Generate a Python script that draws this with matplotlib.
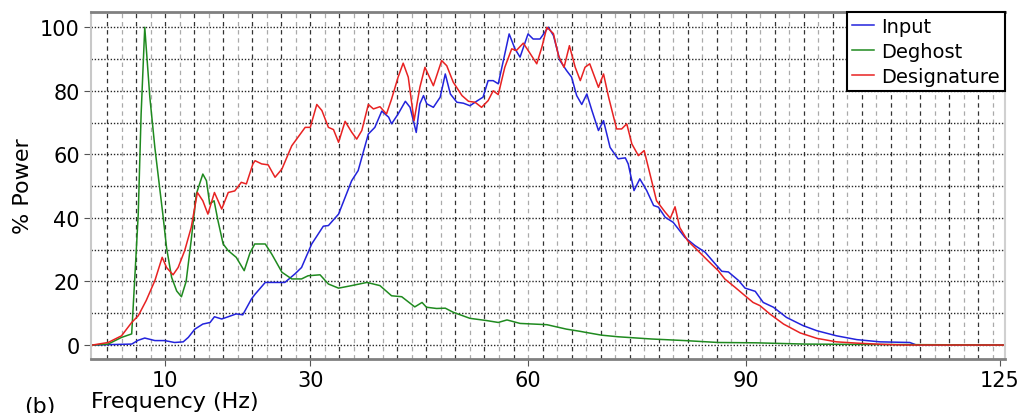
import numpy as np
import matplotlib
matplotlib.use("Agg")
import matplotlib.pyplot as plt

plt.rcParams['font.family'] = ['DejaVu Sans']

# ---- amplitude spectra, % of max power vs frequency (Hz) ----
freq_in = [0, 5.4, 6.3, 7.2, 8.6, 9.95, 11.3, 12.5, 13.2, 14.1, 15.2, 16.2, 16.8, 17.8, 18.7,
           19.8, 20.7, 21.9, 22.4, 23.8, 25.2, 26.5, 27.9, 28.8, 30.2, 31.8, 32.5, 33.9, 35.7,
           36.6, 38.0, 38.9, 39.85, 40.8, 41.2, 42.1, 43.1, 43.75, 44.6, 45.1, 45.6, 46.05, 46.96,
           47.9, 48.6, 49.3, 50.2, 51.1, 52.0, 52.9, 53.8, 54.5, 55.2, 55.9, 56.6, 57.4, 58.2,
           58.9, 60.0, 60.7, 61.65, 62.8, 63.5, 64.4, 65.3, 66.0, 66.7, 67.4, 68.1, 68.8, 69.7,
           70.4, 71.3, 72.4, 73.4, 73.8, 74.6, 75.4, 76.35, 77.3, 77.95, 78.9, 80.0, 81.6, 83.0,
           84.4, 85.8, 86.7, 87.6, 89.0, 89.9, 91.3, 92.4, 93.8, 95.6, 97.9, 99.8, 102.5, 105.3,
           108.5, 112.6, 113.5, 125.7]
power_in = [0, 0.3, 1.5, 2.2, 1.4, 1.4, 0.8, 1.0, 2.4, 5.0, 6.6, 7.1, 8.9, 8.2, 8.9,
            9.8, 9.5, 14.5, 16.0, 19.7, 19.7, 19.7, 22.4, 24.4, 31.8, 37.4, 37.6, 41.2, 51.7,
            54.9, 66.4, 68.5, 73.6, 71.7, 69.6, 72.7, 76.7, 74.8, 66.9, 75.9, 78.5, 75.9, 74.8,
            78.0, 85.3, 79.0, 76.4, 76.1, 75.3, 76.7, 78.0, 83.2, 83.2, 82.2, 89.5, 97.9, 93.2,
            90.6, 97.9, 96.3, 96.3, 100.0, 97.4, 89.5, 86.4, 84.3, 78.5, 75.7, 79.0, 73.8, 67.5,
            70.6, 62.2, 58.6, 58.9, 57.0, 48.6, 52.3, 48.6, 43.9, 43.4, 40.2, 38.6, 33.9, 31.3,
            29.2, 25.5, 23.2, 23.0, 20.3, 17.9, 16.9, 13.4, 11.9, 8.7, 6.1, 4.5, 2.9, 1.7,
            1.0, 0.8, 0.0, 0.0]

freq_dg = [0, 2.15, 4.0, 5.4, 5.8, 6.3, 6.7, 7.2, 7.9, 8.6, 9.3, 9.7, 10.2, 10.9, 11.6,
           12.25, 12.9, 13.6, 14.3, 15.2, 15.7, 16.15, 16.75, 17.3, 18.0, 18.7, 19.8, 20.9, 21.7,
           22.35, 23.8, 24.7, 26.1, 27.45, 28.8, 29.7, 31.35, 32.5, 33.9, 35.7, 37.8, 39.6, 41.2,
           42.6, 44.4, 45.4, 46.0, 47.4, 48.6, 49.7, 52.0, 54.3, 55.9, 57.1, 58.9, 62.6, 65.3,
           67.2, 67.9, 70.15, 72.4, 77.0, 81.6, 86.2, 91.3, 98.2, 105.0, 115.4, 125.7]
power_dg = [0, 0.3, 2.4, 3.5, 20.0, 41.0, 72.7, 100.0, 78.0, 62.0, 48.6, 41.0, 30.7, 21.3, 17.0,
            15.2, 20.0, 33.0, 47.5, 53.8, 51.7, 44.4, 45.4, 39.0, 31.8, 29.7, 27.6, 23.4, 29.0,
            31.8, 31.8, 28.6, 22.9, 20.8, 20.8, 21.8, 22.1, 19.2, 17.9, 18.7, 19.7, 18.7, 15.5,
            15.2, 12.0, 13.4, 11.9, 11.5, 11.6, 10.3, 8.4, 7.7, 7.1, 7.9, 6.8, 6.4, 5.0,
            4.3, 4.0, 3.1, 2.6, 1.9, 1.4, 0.8, 0.7, 0.3, 0.2, 0.1, 0.0]

freq_ds = [0, 2.15, 4.0, 5.4, 6.3, 7.4, 8.6, 9.6, 10.2, 11.1, 11.8, 12.7, 13.6, 14.45, 15.2,
           15.9, 16.8, 17.8, 18.7, 19.6, 20.5, 21.2, 22.1, 22.4, 23.3, 24.2, 25.15, 26.1, 27.45,
           29.3, 30.0, 30.9, 31.6, 32.5, 33.2, 33.9, 34.8, 35.7, 36.4, 37.1, 38.0, 38.7, 39.6,
           40.5, 41.2, 42.1, 42.8, 43.5, 44.3, 45.1, 45.8, 46.96, 48.1, 48.8, 49.7, 50.9, 51.8,
           52.7, 53.6, 54.5, 55.2, 55.9, 56.8, 57.75, 58.4, 59.35, 60.3, 61.2, 61.9, 62.6, 63.5,
           64.2, 64.96, 65.7, 66.5, 67.2, 67.85, 68.5, 69.7, 70.4, 71.1, 72.2, 72.9, 73.6, 74.3,
           75.2, 76.0, 76.8, 77.7, 78.9, 79.6, 80.25, 80.9, 82.0, 83.4, 84.8, 86.2, 87.1, 88.5,
           89.9, 91.0, 91.95, 93.3, 95.2, 97.5, 99.8, 102.5, 105.3, 108.9, 112.0, 125.7]
power_ds = [0, 0.8, 2.9, 7.1, 9.2, 14.0, 20.3, 27.6, 24.4, 22.1, 24.4, 29.7, 37.0, 48.0, 45.4,
            41.2, 48.0, 42.8, 48.0, 48.5, 51.2, 50.7, 57.0, 58.0, 57.0, 56.7, 52.8, 55.4, 62.7,
            68.5, 68.5, 75.7, 73.8, 68.5, 67.8, 63.8, 70.4, 67.0, 64.8, 67.5, 75.7, 74.3, 75.0,
            72.7, 77.4, 84.3, 88.7, 84.3, 70.6, 81.1, 87.4, 81.6, 89.5, 87.9, 82.7, 78.5, 76.7,
            76.4, 74.8, 76.9, 80.0, 78.8, 87.4, 93.2, 92.7, 95.0, 91.7, 88.5, 93.7, 100.0, 98.0,
            91.0, 87.4, 94.2, 87.4, 83.2, 87.4, 88.5, 81.1, 85.3, 78.0, 68.0, 68.0, 69.6, 63.3,
            59.6, 61.2, 53.8, 45.4, 41.8, 39.9, 43.5, 37.0, 32.8, 29.7, 26.5, 23.4, 20.8, 18.2,
            15.5, 13.4, 12.4, 9.8, 6.6, 3.8, 2.1, 1.0, 0.6, 0.2, 0.0, 0.0]

x_ticks = [10, 30, 60, 90, 125]
y_ticks = [0, 20, 40, 60, 80, 100]

fig = plt.figure(figsize=(10.24, 4.14), dpi=100)
ax = fig.add_axes([0.0889, 0.1304, 0.8925, 0.8382])

# grid: dashed verticals every 2 Hz, dotted horizontals every 10 %
for i, f in enumerate(np.arange(2, 126, 2)):
    if i % 2 == 0:
        ax.axvline(f, color='#333333', lw=0.9, ls=(0, (3.5, 3)), zorder=0)
    else:
        ax.axvline(f, color='#aaaaaa', lw=0.9, ls=(0, (3.5, 3)), zorder=0)
for v in range(0, 101, 10):
    ax.axhline(v, color='#262626', lw=1.0, ls=(0, (1, 1.3)), zorder=0)

ax.plot(freq_in, power_in, color='#2323dc', lw=1.1, label='Input')
ax.plot(freq_dg, power_dg, color='#1f8a1f', lw=1.1, label='Deghost')
ax.plot(freq_ds, power_ds, color='#e82222', lw=1.1, label='Designature')

ax.set_xlim(-0.2, 125.7)
ax.set_ylim(-4.4, 104.8)
ax.set_xticks(x_ticks)
ax.set_yticks(y_ticks)
ax.tick_params(axis='both', labelsize=15, direction='out', length=5,
               color='#555555', pad=3)

ax.spines['top'].set_color('#808080')
ax.spines['top'].set_linewidth(2)
ax.spines['bottom'].set_color('#808080')
ax.spines['bottom'].set_linewidth(2)
ax.spines['left'].set_color('#c8c8c8')
ax.spines['left'].set_linewidth(1.5)
ax.spines['right'].set_color('#d0d0d0')
ax.spines['right'].set_linewidth(1.5)

ax.set_ylabel('% Power', fontsize=16, labelpad=5)
fig.text(0.0889, 0.029, 'Frequency (Hz)', fontsize=16, ha='left', va='center')
fig.text(0.024, 0.04, '(b)', fontsize=16, ha='left', va='top')

leg = ax.legend(loc='upper right', fontsize=14, fancybox=False, framealpha=1,
                edgecolor='black', borderaxespad=0, handlelength=1.1,
                handletextpad=0.4, labelspacing=0.32, borderpad=0.25)
leg.get_frame().set_linewidth(1.5)

fig.savefig('out.png', dpi=100)
